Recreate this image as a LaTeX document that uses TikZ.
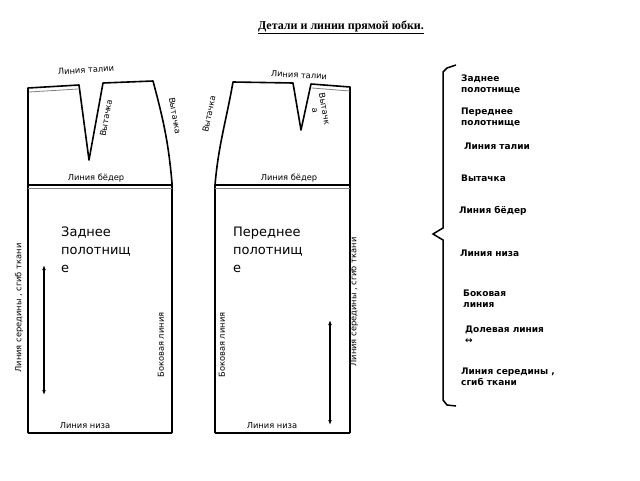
\documentclass[tikz,border=0pt]{standalone}
\usepackage{fontspec}
\setmainfont{DejaVu Sans}
\newfontfamily\titlefont{Liberation Serif}
\usetikzlibrary{arrows.meta}
\begin{document}
\begin{tikzpicture}[x=1pt,y=-1pt,
  outline/.style={line width=1.6pt,line join=round},
  lbl/.style={font=\fontsize{8.3}{9.5}\selectfont,inner sep=0pt},
  rlbl/.style={font=\fontsize{9}{11}\selectfont\bfseries,inner sep=0pt,anchor=west,align=left},
  big/.style={font=\fontsize{13}{18}\selectfont,inner sep=0pt,anchor=north west,align=left},
  arr/.style={line width=1.2pt,{Latex[length=5pt]}-{Latex[length=5pt]}}]
\useasboundingbox (0,0) rectangle (640,480);
\fill[white] (0,0) rectangle (640,480);
\node[font=\titlefont\bfseries\fontsize{12}{14}\selectfont,inner sep=0pt] (title) at (341,27) {\underline{Детали и линии прямой юбки.}};
% left panel
\draw[outline] (28,433) -- (28,88) -- (79,85) -- (89,160) -- (103,83) -- (153,81) to[out=-75,in=95] (172,183) -- (172,433);
\draw[gray,line width=0.8pt] (29,92) -- (78,89);
\draw[line width=1.4pt] (28,185) -- (172,185);
\draw[gray,line width=0.8pt] (28,188) -- (172,188);
\draw[line width=1.4pt] (28,433) -- (172,433);
% right panel
\draw[outline] (215,433) -- (215,185) to[out=85,in=-100] (233,82) -- (293,83) -- (301,130) -- (311,84) -- (350,87) -- (350,433);
\draw[gray,line width=0.8pt] (312,88) -- (350,91);
\draw[line width=1.4pt] (215,185) -- (350,185);
\draw[gray,line width=0.8pt] (215,188) -- (350,188);
\draw[line width=1.4pt] (215,433) -- (350,433);
% labels left
\node[lbl,rotate=4] (lt1) at (86,70) {Линия талии};
\node[lbl,rotate=80] (v1) at (106,118) {Вытачка};
\node[lbl,rotate=-80] (v2) at (175,116) {Вытачка};
\node[lbl] (h1) at (96,178) {Линия бёдер};
\node[lbl] (b1) at (85,426) {Линия низа};
\node[lbl,rotate=90] (m1) at (19,308) {Линия середины , сгиб ткани};
\node[lbl,rotate=90] (s1) at (161,345) {Боковая линия};
\node[big] (z) at (61,227) {Заднее\\полотнищ\\е};
\draw[arr] (44,265) -- (44,395);
% labels right
\node[lbl,rotate=-3] (lt2) at (299,75) {Линия талии};
\node[lbl,rotate=78] (v3) at (209,114) {Вытачка};
\node[lbl,rotate=-80,align=center] (v4) at (320,110) {Вытачк\\а};
\node[lbl] (h2) at (289,178) {Линия бёдер};
\node[lbl] (b2) at (272,426) {Линия низа};
\node[lbl,rotate=90] (m2) at (354,302) {Линия середины , сгиб ткани};
\node[lbl,rotate=90] (s2) at (222,345) {Боковая линия};
\node[big] (p) at (233,227) {Переднее\\полотнищ\\е};
\draw[arr] (330,320) -- (330,425);
% legend
\draw[line width=1.5pt] (456,65) -- (447,68) -- (443,72) -- (443,228) -- (433,234) -- (443,240) -- (443,400) -- (447,405) -- (456,406);
\node[rlbl] (r1) at (461,84) {Заднее\\полотнище};
\node[rlbl] (r2) at (461,117) {Переднее\\полотнище};
\node[rlbl] (r3) at (464,146) {Линия талии};
\node[rlbl] (r4) at (461,178) {Вытачка};
\node[rlbl] (r5) at (459,211) {Линия бёдер};
\node[rlbl] (r6) at (460,253) {Линия низа};
\node[rlbl] (r7) at (463,299) {Боковая\\линия};
\node[rlbl] (r8) at (465,335) {Долевая линия\\↔};
\node[rlbl] (r9) at (461,377) {Линия середины ,\\сгиб ткани};
\end{tikzpicture}
\end{document}
